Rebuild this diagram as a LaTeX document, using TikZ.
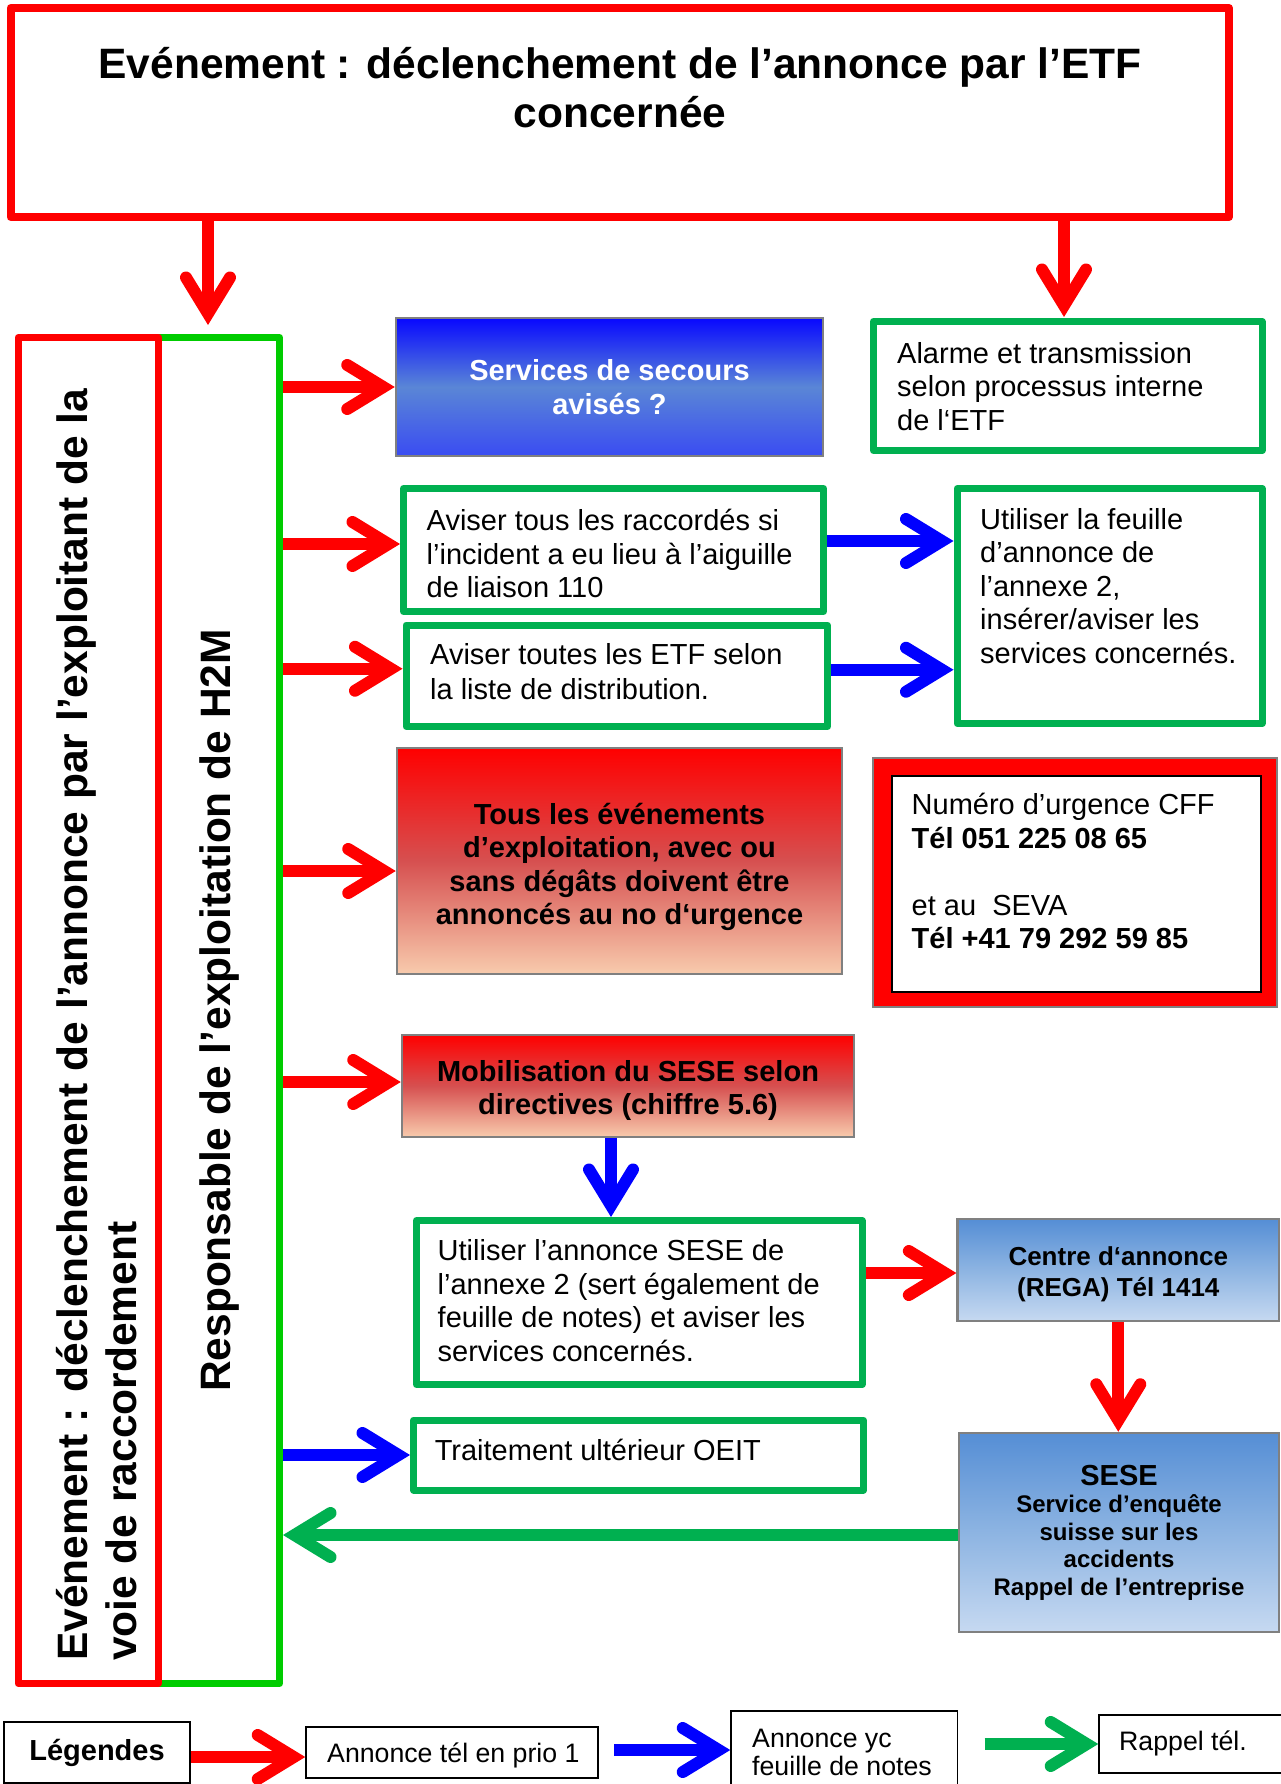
\documentclass[tikz,border=0pt]{standalone}
\usepackage{fontspec}
\setmainfont{Liberation Sans}
\usetikzlibrary{arrows.meta}
\definecolor{cred}{HTML}{FF0000}
\definecolor{cblue}{HTML}{0000FF}
\definecolor{cgreen}{HTML}{00B050}
\definecolor{lgreen}{HTML}{00CC00}
\definecolor{cgray}{HTML}{808080}
\definecolor{bltop}{HTML}{0808FF}
\definecolor{blmid}{HTML}{5A86D6}
\definecolor{blbot}{HTML}{3A4CF2}
\definecolor{rdtop}{HTML}{FF0000}
\definecolor{rdmid}{HTML}{D65050}
\definecolor{rdbot}{HTML}{F8CBAD}
\definecolor{sbtop}{HTML}{558ED5}
\definecolor{sbmid}{HTML}{8DB4E2}
\definecolor{sbbot}{HTML}{C6D9F1}
\tikzset{
  every node/.style={inner sep=0pt},
  fbig/.style={font=\fontsize{42.5}{49}\selectfont\bfseries},
  fn/.style={font=\fontsize{29}{33.5}\selectfont},
  fb/.style={font=\fontsize{29}{33.5}\selectfont\bfseries},
  fleg/.style={font=\fontsize{26.7}{28.5}\selectfont},
  gbox/.style={draw=cgreen, line width=7pt, line join=round},
  shbox/.style={draw=cgray, line width=2.5pt},
  redsh/.style={shbox, top color=rdtop, bottom color=rdbot, middle color=rdmid},
  bluesh/.style={shbox, top color=bltop, bottom color=blbot, middle color=blmid},
  skysh/.style={shbox, top color=sbtop, bottom color=sbbot, middle color=sbmid},
  lbox/.style={draw=black, line width=1.5pt},
  txt/.style={fn, align=left, anchor=north west},
  ltxt/.style={fleg, align=left, anchor=north west},
  arr/.style={line width=12pt, -{Straight Barb[length=36pt, width=44pt, line cap=round, line join=miter]}},
  ra/.style={arr, draw=cred},
  ba/.style={arr, draw=cblue},
  ga/.style={arr, draw=cgreen},
}
\begin{document}
\begin{tikzpicture}[x=1pt,y=-1pt]
\useasboundingbox[fill=white] (0,0) rectangle (1281,1784);
% title
\node[draw=cred, line width=8pt, line join=round, minimum width=1218.5pt, minimum height=209pt] (title) at (619.75,112.5) {};
\node[fbig, align=center, anchor=north] (titletxt) at (620,47) {Evénement : déclenchement de l’annonce par l’ETF\\concernée};
% left columns
\node[draw=lgreen, line width=7pt, line join=round, minimum width=121pt, minimum height=1346pt] (resp) at (219,1010.5) {};
\node[draw=cred, line width=7pt, line join=round, minimum width=140.5pt, minimum height=1346pt] (etf) at (88.25,1010.5) {};
\node[fbig, rotate=90, anchor=west, align=left] (etftxt) at (97,1661) {Evénement : déclenchement de l’annonce par l’exploitant de la\\voie de raccordement};
\node[fbig, rotate=90, anchor=base] (resptxt) at (230,1010.5) {Responsable de l’exploitation de H2M};
% services
\node[bluesh, fb, text=white, align=center, minimum width=427pt, minimum height=138pt] (svc) at (609.5,387) {Services de secours\\avisés ?};
% alarm
\node[gbox, minimum width=388.5pt, minimum height=129pt] (alarm) at (1067.75,386) {};
\node[txt] (alarmtxt) at (897,342) {Alarme et transmission\\selon processus interne\\de l‘ETF};
% aviser tous
\node[gbox, minimum width=420pt, minimum height=123pt] (avt) at (613.5,550) {};
\node[txt] (avttxt) at (426.5,509) {Aviser tous les raccordés si\\l’incident a eu lieu à l’aiguille\\de liaison 110};
% aviser toutes
\node[gbox, minimum width=421.5pt, minimum height=101.5pt] (avs) at (616.75,675.75) {};
\node[txt, font=\fontsize{29}{35}\selectfont] (avstxt) at (430,643.5) {Aviser toutes les ETF selon\\la liste de distribution.};
% feuille
\node[gbox, minimum width=305pt, minimum height=235pt] (feuille) at (1109.5,606) {};
\node[txt] (feuilletxt) at (980,508) {Utiliser la feuille\\d’annonce de\\l’annexe 2,\\insérer/aviser les\\services concernés.};
% tous les evenements
\node[redsh, minimum width=445pt, minimum height=226pt] (tous) at (619.5,861) {};
\node[fb, align=center] (toustxt) at (619.5,867) {Tous les événements\\d’exploitation, avec ou\\sans dégâts doivent être\\annoncés au no d‘urgence};
% urgence
\node[fill=cred, draw=cgray, line width=2pt, minimum width=403.5pt, minimum height=249pt] (urg) at (1074.75,882.5) {};
\node[fill=white, draw=black, line width=2pt, minimum width=369pt, minimum height=216pt] (urgin) at (1076,884) {};
\node[txt] (urgtxt) at (911.5,793) {Numéro d’urgence CFF\\\textbf{Tél 051 225 08 65}\\[33.5pt]et au~~SEVA\\\textbf{Tél +41 79 292 59 85}};
% mobilisation
\node[redsh, minimum width=452pt, minimum height=102pt] (mob) at (628,1086) {};
\node[fb, align=center] (mobtxt) at (628,1090.5) {Mobilisation du SESE selon\\directives (chiffre 5.6)};
% annonce SESE
\node[gbox, minimum width=445.5pt, minimum height=164pt] (sese1) at (639.25,1302.5) {};
\node[txt] (sese1txt) at (437.5,1239.5) {Utiliser l’annonce SESE de\\l’annexe 2 (sert également de\\feuille de notes) et aviser les\\services concernés.};
% REGA
\node[skysh, minimum width=321.4pt, minimum height=102pt] (rega) at (1118.3,1270) {};
\node[font=\fontsize{26}{31}\selectfont\bfseries, align=center] (regatxt) at (1118.3,1274.5) {Centre d‘annonce\\(REGA) Tél 1414};
% SESE
\node[skysh, font=\fontsize{24}{27.5}\selectfont\bfseries, align=center, minimum width=320pt, minimum height=199pt] (sese) at (1119,1532.5) {{\fontsize{29}{30}\selectfont SESE}\\Service d’enquête\\suisse sur les\\accidents\\Rappel de l’entreprise};
% OEIT
\node[gbox, minimum width=450pt, minimum height=70pt] (oeit) at (638.5,1455) {};
\node[txt] (oeittxt) at (434.6,1439) {Traitement ultérieur OEIT};
% legend
\node[lbox, fb, minimum width=186pt, minimum height=61pt] (leg) at (97,1752.5) {Légendes};
\node[lbox, minimum width=292pt, minimum height=51pt] (legr) at (452,1752.5) {};
\node[ltxt] (legrtxt) at (327,1742.5) {Annonce tél en prio 1};
\node[lbox, minimum width=226.5pt, minimum height=89pt] (legb) at (844.25,1755.5) {};
\node[ltxt] (legbtxt) at (752,1728.5) {Annonce yc\\feuille de notes};
\node[lbox, minimum width=196pt, minimum height=58pt] (legg) at (1197,1744) {};
\node[ltxt] (leggtxt) at (1119,1731) {Rappel tél.};
% arrows from title
\coordinate (a1) at (208,325);
\coordinate (a2) at (1064,317);
\draw[ra] (title.south -| a1) -- (a1);
\draw[ra] (title.south -| a2) -- (a2);
% arrows from responsible column
\coordinate (t4) at ([yshift=6pt]avt.west);
\coordinate (t5) at ([yshift=7pt]avs.west);
\coordinate (t6) at ([yshift=-10pt]tous.west);
\coordinate (t7) at ([yshift=4pt]mob.west);
\draw[ra] (resp.east |- svc.west) -- (svc.west);
\draw[ra] (resp.east |- t4) -- (t4);
\draw[ra] (resp.east |- t5) -- (t5);
\draw[ra] (resp.east |- t6) -- (t6);
\draw[ra] (resp.east |- t7) -- (t7);
\draw[ba] (resp.east |- oeit.west) -- (oeit.west);
% blue arrows
\coordinate (b1) at ([yshift=9pt]avt.east);
\coordinate (b2) at ([yshift=6pt]avs.east);
\coordinate (b3) at ([xshift=-17pt]mob.south);
\draw[ba] (b1) -- (b1 -| feuille.west);
\draw[ba] (b2) -- (b2 -| feuille.west);
\draw[ba] (b3) -- (b3 |- sese1.north);
% SESE chain
\coordinate (r8) at ([yshift=-3pt]rega.west);
\draw[ra] (sese1.east |- r8) -- (r8);
\draw[ra] (rega.south) -- (rega.south |- sese.north);
\coordinate (g1) at ([yshift=-2.5pt]sese.west);
\draw[ga] (g1) -- (g1 -| resp.east);
% legend arrows
\coordinate (lr0) at ([yshift=-4.5pt]leg.east);
\coordinate (lb0) at (614,1750);
\coordinate (lg0) at (984.5,1744);
\draw[ra] (lr0) -- (lr0 -| legr.west);
\draw[ba] (lb0) -- (lb0 -| legb.west);
\draw[ga] (lg0) -- (lg0 -| legg.west);
\end{tikzpicture}
\end{document}
